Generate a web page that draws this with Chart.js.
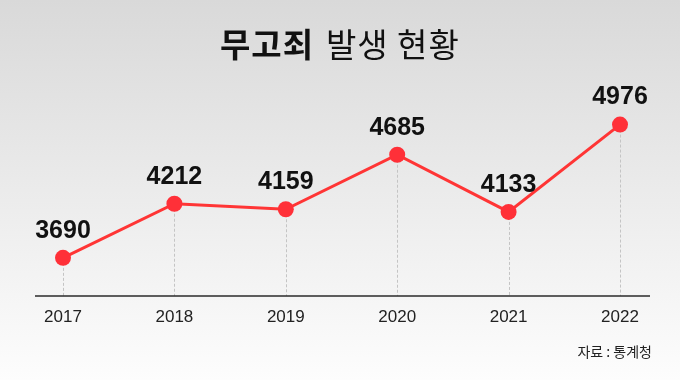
<!DOCTYPE html>
<html>
<head>
<meta charset="utf-8">
<script src="https://cdn.jsdelivr.net/npm/chart.js@4"></script>
<style>
  html,body{margin:0;padding:0;background:#fff;}
  #wrap{width:680px;height:380px;position:relative;}
</style>
</head>
<body>
<div id="wrap"><canvas id="c" width="680" height="380"></canvas></div>
<script>
const years = ['2017','2018','2019','2020','2021','2022'];
const cases = [3690, 4212, 4159, 4685, 4133, 4976];
const titleBold = '무고죄';
const titleRegular = '발생 현황';
const sourceText = '자료 : 통계청';

const decor = {
  id: 'decor',
  beforeDraw(chart) {
    const ctx = chart.ctx;
    const g = ctx.createLinearGradient(0, 0, 0, chart.height);
    g.addColorStop(0, '#d9d9d9');
    g.addColorStop(1, '#fdfdfd');
    ctx.save();
    ctx.fillStyle = g;
    ctx.fillRect(0, 0, chart.width, chart.height);
    // title
    ctx.textBaseline = 'alphabetic';
    ctx.textAlign = 'left';
    ctx.fillStyle = '#111';
    ctx.letterSpacing = '1px';
    ctx.font = 'bold 33px "Noto Sans CJK KR"';
    ctx.fillText(titleBold, 220, 57);
    ctx.font = '33px "Noto Sans CJK KR"';
    ctx.fillText(titleRegular, 326, 57);
    ctx.letterSpacing = '0px';
    // source
    ctx.font = '14px "Noto Sans CJK KR"';
    ctx.fillStyle = '#222';
    ctx.textAlign = 'right';
    ctx.textBaseline = 'middle';
    ctx.fillText(sourceText, 652, 352);
    ctx.restore();
  },
  beforeDatasetsDraw(chart) {
    const ctx = chart.ctx;
    const meta = chart.getDatasetMeta(0);
    const bottom = chart.chartArea.bottom;
    ctx.save();
    ctx.strokeStyle = '#c4c4c4';
    ctx.lineWidth = 1;
    ctx.setLineDash([3, 2]);
    meta.data.forEach(p => {
      ctx.beginPath();
      ctx.moveTo(Math.round(p.x) + 0.5, p.y);
      ctx.lineTo(Math.round(p.x) + 0.5, bottom);
      ctx.stroke();
    });
    ctx.setLineDash([]);
    ctx.strokeStyle = '#2a2a2a';
    ctx.lineWidth = 1.5;
    ctx.beginPath();
    ctx.moveTo(35, bottom);
    ctx.lineTo(650, bottom);
    ctx.stroke();
    ctx.restore();
  },
  afterDatasetsDraw(chart) {
    const ctx = chart.ctx;
    const meta = chart.getDatasetMeta(0);
    ctx.save();
    ctx.font = 'bold 25px "Liberation Sans", Arial, sans-serif';
    ctx.fillStyle = '#111';
    ctx.textAlign = 'center';
    ctx.textBaseline = 'middle';
    meta.data.forEach((p, i) => {
      ctx.fillText(String(cases[i]), p.x, p.y - 27);
    });
    ctx.restore();
  }
};

new Chart(document.getElementById('c'), {
  type: 'line',
  data: {
    labels: years,
    datasets: [{
      data: cases,
      borderColor: '#ff3535',
      backgroundColor: '#ff3535',
      borderWidth: 3,
      pointRadius: 8,
      pointHoverRadius: 8,
      pointBackgroundColor: '#ff3038',
      pointBorderWidth: 0,
      tension: 0,
      fill: false
    }]
  },
  options: {
    responsive: false,
    animation: false,
    events: [],
    layout: { padding: { top: 91, left: 63, right: 60, bottom: 0 } },
    plugins: { legend: { display: false }, tooltip: { enabled: false }, title: { display: false } },
    scales: {
      x: {
        offset: false,
        grid: { display: false, drawTicks: false },
        border: { display: false },
        ticks: {
          color: '#222',
          padding: 11,
          maxRotation: 0,
          autoSkip: false,
          font: { family: '"Liberation Sans", Arial, sans-serif', size: 17 }
        },
        afterFit(scale) { scale.height = 84; }
      },
      y: {
        display: false,
        min: 3322,
        max: 5300
      }
    }
  },
  plugins: [decor]
});
</script>
</body>
</html>
